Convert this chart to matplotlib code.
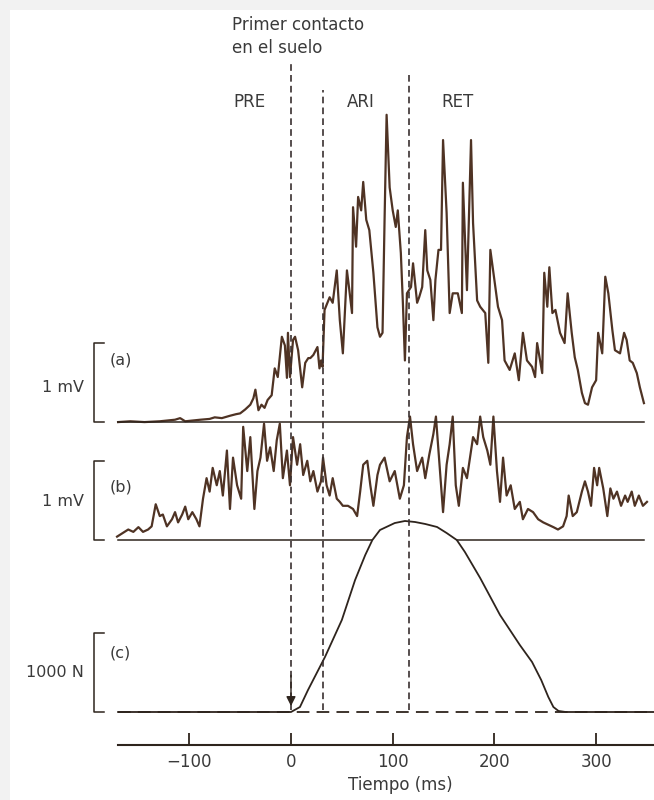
import numpy as np
import matplotlib.pyplot as plt
from matplotlib.patches import Rectangle

# EMG (a), time in ms, amplitude in mV
t_a = [-170, -158, -144, -129, -114, -109, -104, -89, -80, -75, -68, -60, -54, -50, -45, -40, -37, -35,
       -32, -29, -26, -23, -19, -16, -13, -9, -6, -4, -3, -1, 2, 4, 7, 11, 14, 17, 19, 22, 26, 28, 29.5,
       31, 33, 38, 41, 45, 48, 51, 55, 57, 60, 61, 64, 66, 69, 71, 74, 77, 81, 85, 87.5, 90, 92, 94,
       97, 100, 103, 105, 108, 110, 112, 114, 118, 120, 124, 126, 129, 132, 134, 137, 140, 142, 145,
       147.5, 149.5, 153, 156, 159, 164, 168, 169, 173, 177, 179, 183, 186, 191, 194, 196, 199, 203.5,
       207.5, 210, 215, 220, 224, 228, 232, 237, 240, 242, 247, 249, 252, 254, 257, 260, 264.5, 269,
       272, 276, 279, 282, 286, 289, 292, 296, 300, 302, 306, 309, 312, 316, 318.5, 323.5, 327.5, 330,
       333, 336, 340, 343, 347]
emg_a = [0.0, 0.01, 0.0, 0.01, 0.03, 0.05, 0.01, 0.03, 0.04, 0.06, 0.05, 0.08, 0.10, 0.11, 0.16, 0.22,
         0.30, 0.41, 0.15, 0.22, 0.18, 0.28, 0.34, 0.68, 0.57, 1.08, 0.97, 0.56, 1.13, 0.57, 1.04, 1.08,
         0.91, 0.44, 0.75, 0.81, 0.81, 0.85, 0.95, 0.68, 0.78, 0.70, 1.42, 1.58, 1.51, 1.92, 1.29, 0.87,
         1.92, 1.71, 1.38, 2.72, 2.22, 2.85, 2.68, 3.04, 2.56, 2.43, 1.89, 1.20, 1.08, 1.13, 2.56, 3.89,
         2.97, 2.68, 2.47, 2.68, 2.14, 1.51, 0.78, 1.63, 1.71, 2.01, 1.51, 1.58, 1.71, 2.43, 1.92, 1.80,
         1.29, 1.80, 2.18, 2.18, 3.57, 2.65, 1.38, 1.63, 1.63, 1.38, 3.03, 1.67, 3.57, 2.52, 1.54, 1.46,
         1.38, 0.75, 2.18, 1.89, 1.46, 1.29, 0.78, 0.66, 0.87, 0.53, 1.13, 0.78, 0.70, 0.57, 1.00, 0.62,
         1.89, 1.46, 1.96, 1.38, 1.42, 1.13, 1.00, 1.63, 1.13, 0.82, 0.66, 0.37, 0.24, 0.22, 0.44, 0.53,
         1.13, 0.87, 1.84, 1.63, 1.16, 0.91, 0.87, 1.13, 1.04, 0.78, 0.75, 0.62, 0.44, 0.24]

# EMG (b)
t_b = [-171, -165, -160, -155, -150, -145.5, -140.5, -137, -133, -129, -126, -122, -117, -114, -111,
       -107, -104, -101, -97, -93, -90, -86.5, -83, -80, -77, -73, -70, -67, -63, -60, -57, -53, -49,
       -47, -43, -40, -36, -33, -30, -26.5, -23.5, -20.5, -17, -14, -11, -8, -4, -1, 2, 6, 9, 12, 16,
       19, 22, 26, 29.5, 31.5, 35, 38, 41, 45, 48, 51, 56, 61, 65, 68, 71, 75, 78, 81, 85, 87.5, 92, 97,
       102, 107, 111, 114, 117, 120, 124, 129, 132, 136, 140, 142.5, 145.5, 149.5, 153, 156, 159, 162,
       165, 169, 173, 176, 179, 183, 186, 189, 193, 196, 199, 202.5, 205.5, 208.5, 212, 216, 220, 225,
       228, 233, 238, 243, 248, 253, 258, 262.5, 267.5, 271, 273, 277, 281, 286, 289, 292, 295, 298,
       301, 303, 307, 311, 314, 317, 320.5, 324.5, 328.5, 331, 335, 338, 342, 346, 350]
emg_b = [0.04, 0.09, 0.13, 0.10, 0.16, 0.10, 0.13, 0.17, 0.45, 0.30, 0.32, 0.17, 0.26, 0.35, 0.22, 0.32,
         0.42, 0.26, 0.35, 0.26, 0.17, 0.52, 0.78, 0.61, 0.91, 0.69, 0.87, 0.56, 1.13, 0.39, 1.04, 0.69,
         0.52, 1.43, 0.87, 1.30, 0.39, 0.87, 1.04, 1.47, 1.00, 1.17, 0.87, 1.26, 1.47, 0.78, 1.13, 0.69,
         1.30, 0.95, 1.21, 0.82, 1.00, 0.74, 0.87, 0.61, 0.74, 1.04, 0.69, 0.56, 0.78, 0.52, 0.48, 0.43,
         0.43, 0.39, 0.30, 0.61, 0.95, 1.00, 0.69, 0.43, 0.82, 0.95, 1.04, 0.74, 0.87, 0.52, 0.69, 1.30,
         1.56, 1.21, 0.87, 1.04, 0.78, 1.08, 1.34, 1.56, 1.04, 0.35, 0.95, 1.21, 1.56, 0.69, 0.43, 0.91,
         0.78, 1.04, 1.30, 1.21, 1.56, 1.30, 1.13, 0.95, 1.56, 0.87, 0.48, 1.04, 0.56, 0.69, 0.39, 0.48,
         0.26, 0.39, 0.35, 0.26, 0.22, 0.19, 0.16, 0.13, 0.17, 0.30, 0.56, 0.30, 0.35, 0.61, 0.74, 0.61,
         0.43, 0.91, 0.69, 0.91, 0.65, 0.30, 0.65, 0.52, 0.61, 0.43, 0.56, 0.48, 0.61, 0.43, 0.56, 0.43,
         0.48]

# ground reaction force (c), N
t_c = [-170, 0, 8.8, 16.7, 33.4, 50, 63, 73, 80, 87.5, 102, 112, 122, 132, 143.6, 153, 163, 171, 186,
       205.5, 225, 237, 246, 253, 258, 263, 270, 357]
force_c = [0, 0, 63, 278, 696, 1165, 1670, 1987, 2177, 2304, 2392, 2418, 2405, 2380, 2342, 2266, 2177,
           2025, 1696, 1228, 848, 633, 405, 190, 63, 13, 0, 0]

events = [0, 31, 116]
ticks = [-100, 0, 100, 200, 300]

# vertical offsets of the traces (1 unit = 1 mV = 1000 N)
OFF_A = 3.67
OFF_B = 2.18

ink = '#4f3324'
dark = '#2e241d'
txt = '#3a3a3a'

fig = plt.figure(figsize=(6.54, 8.0), dpi=100, facecolor='#f2f2f2')
ax = fig.add_axes([0, 0, 1, 1])
ax.set_facecolor('none')
ax.add_patch(Rectangle((10 / 654, 0), 1, 790 / 800, transform=fig.transFigure,
                       facecolor='white', edgecolor='none', zorder=-10))
ax.set_xlim(-286.1, 356.9)
ax.set_ylim(-1.114, 9.013)

# traces
ax.plot(t_a, np.array(emg_a) + OFF_A, color=ink, lw=1.6)
ax.plot(t_b, np.array(emg_b) + OFF_B, color=ink, lw=1.6)
ax.plot(t_c, np.array(force_c) / 1000, color=dark, lw=1.3)

# baselines
ax.plot([-170, 347], [OFF_A, OFF_A], color=dark, lw=1.1)
tl = np.linspace(-170, 347, 800)
fl = np.interp(tl, t_c, force_c) / 1000
ax.plot(tl, np.where(fl > OFF_B, np.nan, OFF_B), color=dark, lw=1.1)
ax.plot([-170, 357], [0, 0], color=dark, lw=1.3, dashes=(7, 4))

# phase lines
tops = [8.2, 7.87, 8.1]
for ev, top in zip(events, tops):
    ax.plot([ev, ev], [0.02, top], color='#3a3030', lw=1.2, dashes=(4, 2.5))
ax.annotate('', xy=(events[0], 0.04), xytext=(events[0], 0.5),
            arrowprops=dict(arrowstyle='-|>', color=dark, lw=1.0, mutation_scale=14))

# scale bars
for base, lab, name, ylab, yname in [(OFF_A, '1 mV', '(a)', OFF_A + 0.44, OFF_A + 0.79),
                                     (OFF_B, '1 mV', '(b)', OFF_B + 0.48, OFF_B + 0.67),
                                     (0, '1000 N', '(c)', 0.5, 0.75)]:
    ax.plot([-184, -194, -194, -184], [base + 1, base + 1, base, base], color=dark, lw=1.1)
    ax.text(-204, ylab, lab, ha='right', va='center', fontsize=11.5, color=txt)
    ax.text(-178, yname, name, ha='left', va='center', fontsize=11.5, color=txt)

# labels at top
ax.text(-58, 8.70, 'Primer contacto', ha='left', va='center', fontsize=12, color=txt)
ax.text(-58, 8.41, 'en el suelo', ha='left', va='center', fontsize=12, color=txt)
ax.text(-57, 7.72, 'PRE', ha='left', va='center', fontsize=12, color=txt)
ax.text(55, 7.72, 'ARI', ha='left', va='center', fontsize=12, color=txt)
ax.text(148, 7.72, 'RET', ha='left', va='center', fontsize=12, color=txt)

# time axis
for s in ['left', 'right', 'top']:
    ax.spines[s].set_visible(False)
ax.spines['bottom'].set_position(('data', -0.418))
ax.spines['bottom'].set_bounds(-170, 357)
ax.spines['bottom'].set_color(dark)
ax.spines['bottom'].set_linewidth(1.5)
ax.set_yticks([])
ax.set_xticks(ticks)
ax.tick_params(axis='x', direction='in', length=9, width=1.3, color=dark,
               labelsize=12, labelcolor=txt, pad=6)
ax.text(107, -0.93, 'Tiempo (ms)', ha='center', va='center', fontsize=12, color=txt)

fig.savefig('out.png', dpi=100, facecolor=fig.get_facecolor())
